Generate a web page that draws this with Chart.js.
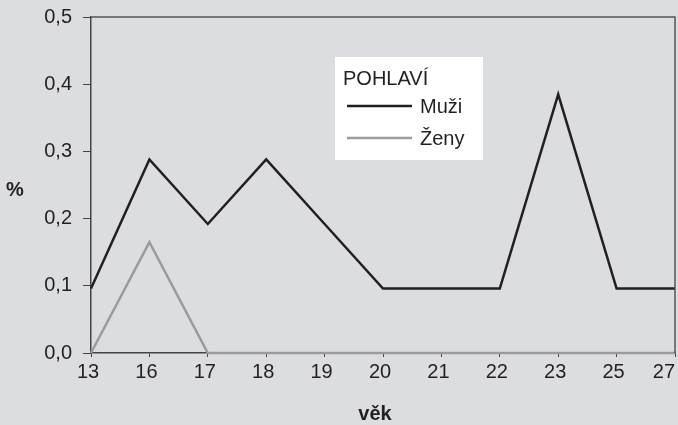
<!DOCTYPE html>
<html>
<head>
<meta charset="utf-8">
<script src="https://cdn.jsdelivr.net/npm/chart.js@4"></script>
<style>
  body { margin: 0; background: #dcdde0; }
  #wrap { width: 678px; height: 425px; }
</style>
</head>
<body>
<div id="wrap"><canvas id="myChart" width="678" height="425"></canvas></div>
<script>
// Data
const ages = ['13', '16', '17', '18', '19', '20', '21', '22', '23', '25', '27'];
const muzi = [0.096, 0.288, 0.192, 0.288, 0.192, 0.096, 0.096, 0.096, 0.385, 0.096, 0.096];
const zeny = [0, 0.165, 0, 0, 0, 0, 0, 0, 0, 0, 0];
const yTicks = [0, 0.1, 0.2, 0.3, 0.4, 0.5];

const FONT = "'Liberation Sans', Arial, Helvetica, sans-serif";
const INK = '#231f20';
const BG = '#dcdde0';

// Background, frame, axis titles, x labels and the boxed legend
const decor = {
    id: 'decor',
    beforeDraw(chart) {
        const c = chart.ctx;
        c.save();
        c.fillStyle = BG;
        c.fillRect(0, 0, chart.width, chart.height);
        c.restore();
    },
    afterDraw(chart) {
        const c = chart.ctx;
        const a = chart.chartArea;
        c.save();
        // top and right frame
        c.strokeStyle = '#555';
        c.lineWidth = 1.5;
        c.beginPath();
        c.moveTo(a.left, a.top);
        c.lineTo(a.right, a.top);
        c.lineTo(a.right, a.bottom);
        c.stroke();

        // x tick labels
        const xs = chart.scales.x;
        c.fillStyle = INK;
        c.font = '20px ' + FONT;
        c.textAlign = 'center';
        c.textBaseline = 'middle';
        ages.forEach((lab, i) => {
            let x = xs.getPixelForValue(i) - 3;
            const w = c.measureText(lab).width;
            if (x + w / 2 > a.right) x = a.right - w / 2;
            c.fillText(lab, x, 372);
        });

        // axis titles
        c.font = 'bold 20px ' + FONT;
        c.fillText('%', 15, 190);
        c.fillText('věk', 375, 414);

        // legend
        c.fillStyle = '#ffffff';
        c.fillRect(335, 57, 148, 103);
        c.fillStyle = INK;
        c.textAlign = 'left';
        c.font = '20px ' + FONT;
        c.fillText('POHLAVÍ', 343, 79);
        chart.data.datasets.forEach((ds, i) => {
            const y = 106 + i * 32;
            c.strokeStyle = ds.borderColor;
            c.lineWidth = 2.5;
            c.beginPath();
            c.moveTo(347, y);
            c.lineTo(412, y);
            c.stroke();
            c.fillStyle = INK;
            c.fillText(ds.label, 420, y + 1);
        });
        c.restore();
    }
};

new Chart(document.getElementById('myChart'), {
    type: 'line',
    data: {
        labels: ages,
        datasets: [
            { label: 'Muži', data: muzi, borderColor: INK, borderWidth: 2.5, pointRadius: 0, tension: 0, clip: false },
            { label: 'Ženy', data: zeny, borderColor: '#9b9b9b', borderWidth: 2.5, pointRadius: 0, tension: 0, clip: false }
        ]
    },
    options: {
        responsive: false,
        animation: false,
        devicePixelRatio: 1,
        layout: { padding: { left: 0, right: 3, top: 17, bottom: 0 } },
        plugins: {
            legend: { display: false },
            tooltip: { enabled: false }
        },
        scales: {
            x: {
                offset: false,
                grid: { drawOnChartArea: false, drawTicks: true, tickLength: 4, color: '#444' },
                border: { display: true, color: '#444', width: 1.5 },
                ticks: { display: false },
                afterFit: s => { s.height = 72; s.paddingLeft = 0; s.paddingRight = 0; }
            },
            y: {
                min: 0,
                max: 0.5,
                afterBuildTicks: s => { s.ticks = yTicks.map(v => ({ value: v })); },
                grid: { drawOnChartArea: false, drawTicks: true, tickLength: 8, color: '#444' },
                border: { display: true, color: '#444', width: 1.5 },
                ticks: {
                    padding: 11,
                    color: INK,
                    font: { family: FONT, size: 20 },
                    callback: v => v.toFixed(1).replace('.', ',')
                },
                afterFit: s => { s.width = 91; s.paddingTop = 0; s.paddingBottom = 0; }
            }
        }
    },
    plugins: [decor]
});
</script>
</body>
</html>
